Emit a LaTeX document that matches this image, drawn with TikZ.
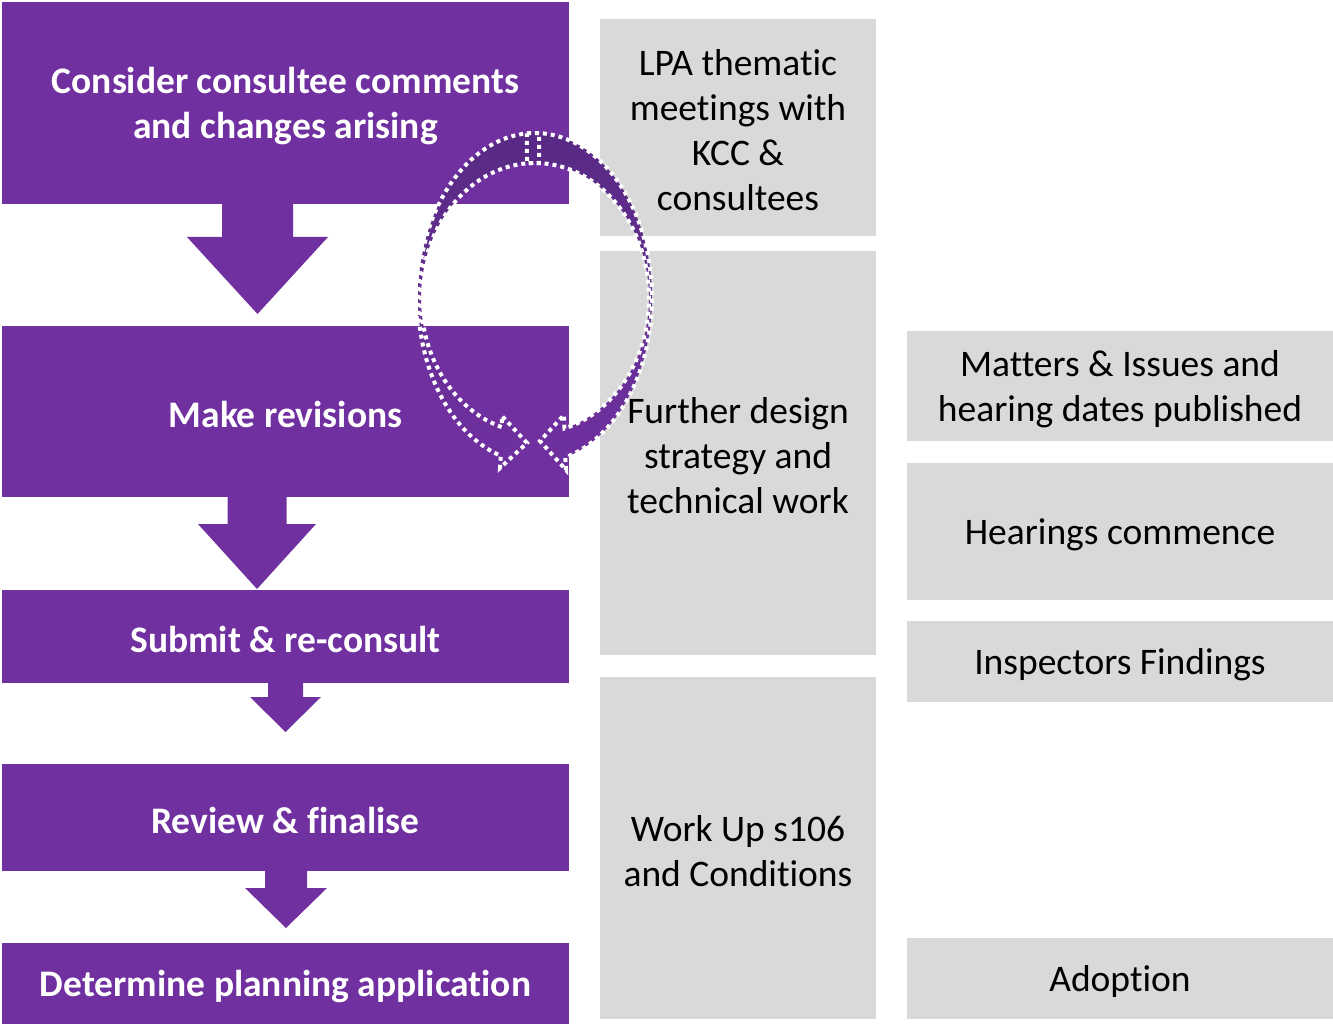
\documentclass[tikz,border=0pt]{standalone}
\usepackage{fontspec}
\setmainfont[RawFeature={-liga;-dlig;-clig}]{Carlito}
\usetikzlibrary{calc}
\definecolor{purp}{HTML}{7030A0}
\definecolor{purpdark}{HTML}{582A84}
\definecolor{greybox}{HTML}{D9D9D9}
\tikzset{
  pbox/.style={fill=purp, inner sep=0pt, outer sep=0pt, anchor=north west, minimum width=567pt},
  ptext/.style={text=white, font=\fontsize{37.5}{45}\selectfont\bfseries, align=center, inner sep=0pt, yshift=-3pt},
  gbox/.style={fill=greybox, inner sep=0pt, outer sep=0pt, anchor=north west},
  gtext/.style={text=black, font=\fontsize{37.5}{45}\selectfont, align=center, inner sep=0pt, yshift=-3pt},
  ringshade/.style={top color=purpdark, bottom color=purp},
  ringline/.style={draw=white, line width=4pt, dash pattern=on 4pt off 4pt},
}
% #1 from, #2 to, #3 centre x, #4 shaft half width, #5 head half width, #6 shaft length, #7 gap of tip above target
\newcommand\blockarr[7]{%
  \fill[purp] let \p1=(#1.south), \p2=(#2.north) in
    ({#3pt-#4pt},\y1) -- ({#3pt+#4pt},\y1) -- ({#3pt+#4pt},\y1-#6pt) -- ({#3pt+#5pt},\y1-#6pt)
    -- (#3pt,\y2+#7pt) -- ({#3pt-#5pt},\y1-#6pt) -- ({#3pt-#4pt},\y1-#6pt) -- cycle;}
\newcommand\ringright{plot[domain=-94:75,samples=80] ({535+117*cos(\x)},{298+165*sin(\x)})
  -- (566,470) -- (540,441) -- (564,415)
  -- plot[domain=75:-94,samples=80] ({535+114*cos(\x)},{298+135*sin(\x)}) -- cycle}
\newcommand\ringleft{plot[domain=-88:-253,samples=80] ({535+117*cos(\x)},{298+165*sin(\x)})
  -- (500,468) -- (527,443) -- (502,416)
  -- plot[domain=-253:-88,samples=80] ({535+114*cos(\x)},{298+135*sin(\x)}) -- cycle}
\begin{document}
\begin{tikzpicture}[x=1pt,y=-1pt]
\useasboundingbox (0,0) rectangle (1333,1024);
% purple process column
\node[pbox, minimum height=202pt, label={[ptext]center:{Consider consultee comments\\and changes arising}}] (b1) at (2,2) {};
\node[pbox, minimum height=171pt, label={[ptext]center:{Make revisions}}] (b2) at (2,326) {};
\node[pbox, minimum height=93pt, label={[ptext]center:{Submit \& re-consult}}] (b3) at (2,590) {};
\node[pbox, minimum height=107pt, label={[ptext]center:{Review \& finalise}}] (b4) at (2,764) {};
\node[pbox, minimum height=81pt, label={[ptext]center:{Determine planning application}}] (b5) at (2,943) {};
\blockarr{b1}{b2}{257.5}{35.5}{70.5}{33}{12}
\blockarr{b2}{b3}{257}{29.5}{59}{27}{1}
\blockarr{b3}{b4}{285.5}{17.5}{35.5}{14}{32}
\blockarr{b4}{b5}{286}{21}{41}{17}{15}
% grey middle column
\node[gbox, minimum width=276pt, minimum height=217pt, label={[gtext]center:{LPA thematic\\meetings with\\KCC \&\\consultees}}] (g1) at (600,19) {};
\node[gbox, minimum width=276pt, minimum height=404pt] (g2) at (600,251) {};
\node[gbox, minimum width=276pt, minimum height=342pt, label={[gtext]center:{Work Up s106\\and Conditions}}] (g3) at (600,677) {};
% grey right column
\node[gbox, minimum width=426pt, minimum height=110pt, label={[gtext]center:{Matters \& Issues and\\hearing dates published}}] (r1) at (907,331) {};
\node[gbox, minimum width=426pt, minimum height=137pt, label={[gtext]center:{Hearings commence}}] (r2) at (907,463) {};
\node[gbox, minimum width=426pt, minimum height=81pt, label={[gtext]center:{Inspectors Findings}}] (r3) at (907,621) {};
\node[gbox, minimum width=426pt, minimum height=81pt, label={[gtext]center:{Adoption}}] (r4) at (907,938) {};
% circular arrows: fills first, then dotted outlines
\path[ringshade] \ringright;
\path[ringshade] \ringleft;
\path[ringline] \ringright;
\path[ringline] \ringleft;
% text of the design box lies over the circular arrow
\node[gtext] at (g2.center) {Further design\\strategy and\\technical work};
\end{tikzpicture}
\end{document}
